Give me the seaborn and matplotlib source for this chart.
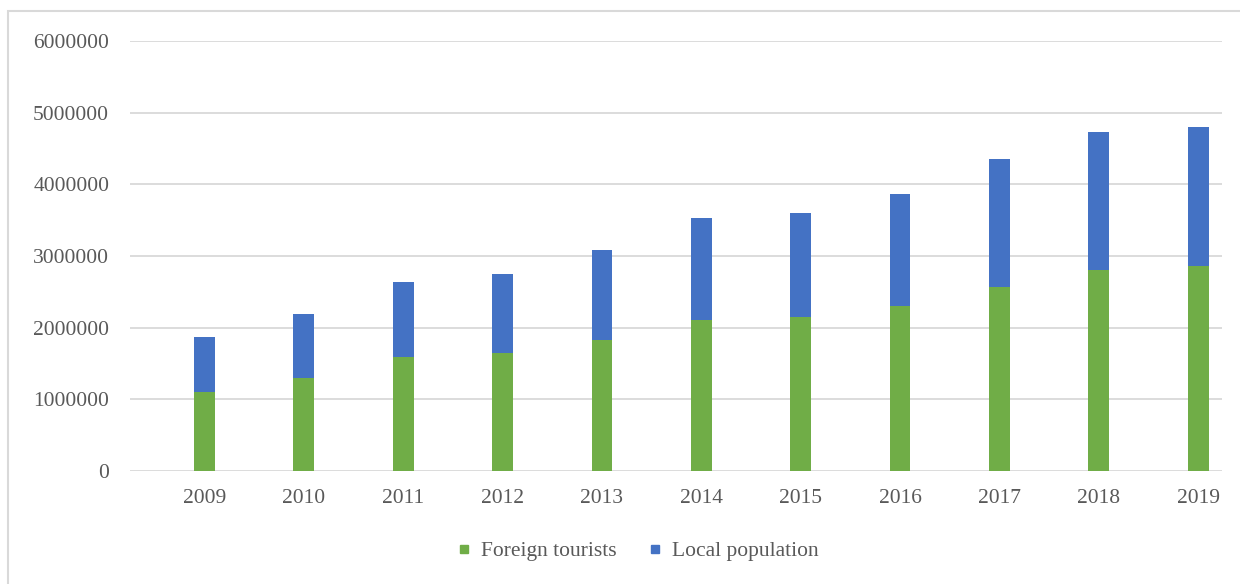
import matplotlib
matplotlib.use("Agg")
import matplotlib.pyplot as plt
import seaborn as sns
from matplotlib.lines import Line2D
from matplotlib.patches import Rectangle

years = ["2009", "2010", "2011", "2012", "2013", "2014", "2015", "2016", "2017", "2018", "2019"]
foreign = [1100000, 1300000, 1587000, 1643000, 1834000, 2102000, 2144000, 2302000, 2567000, 2799000, 2855000]
local = [771000, 895000, 1054000, 1105000, 1252000, 1434000, 1462000, 1568000, 1791000, 1930000, 1948000]
totals = [f + l for f, l in zip(foreign, local)]

green = "#70AD47"
blue = "#4472C4"
txt = "#595959"

sns.set_style("white")
plt.rcParams["font.family"] = ["Liberation Serif", "DejaVu Serif"]

fig = plt.figure(figsize=(12.4, 5.84), dpi=100)
ax = fig.add_axes([130 / 1240, 1 - 471 / 584, (1222 - 130) / 1240, (471 - 41) / 584])

# stacked: total in blue, foreign on top of it in green
sns.barplot(x=years, y=totals, color=blue, width=0.21, saturation=1, linewidth=0, ax=ax)
sns.barplot(x=years, y=foreign, color=green, width=0.21, saturation=1, linewidth=0, ax=ax)

ax.set_ylim(0, 6000000)
ax.set_xlim(-0.75, 10.24)
ax.set_yticks(range(0, 6000001, 1000000))
ax.set_yticklabels([str(v) for v in range(0, 6000001, 1000000)])
ax.yaxis.grid(True, color="#d9d9d9", linewidth=1.3)
ax.set_axisbelow(True)
for s in ax.spines.values():
    s.set_visible(False)
ax.tick_params(axis="both", length=0, labelsize=15.5, labelcolor=txt)
ax.tick_params(axis="y", pad=15)
ax.tick_params(axis="x", pad=13)
ax.set_xlabel("")
ax.set_ylabel("")

handles = [
    Line2D([], [], marker="s", color=green, linestyle="", markersize=6),
    Line2D([], [], marker="s", color=blue, linestyle="", markersize=6),
]
fig.legend(handles, ["Foreign tourists", "Local population"], loc="center",
           bbox_to_anchor=(636 / 1240, 1 - 551 / 584), ncol=2, frameon=False,
           fontsize=15.5, labelcolor=txt, handlelength=1.0, handletextpad=0.3,
           columnspacing=1.3)

fig.patches.append(Rectangle((8 / 1240, -0.05), 1.1, 1 - 11 / 584 + 0.05,
                             transform=fig.transFigure, fill=False,
                             edgecolor="#d9d9d9", linewidth=1.5))

fig.savefig("out.png", dpi=100, facecolor="white")
